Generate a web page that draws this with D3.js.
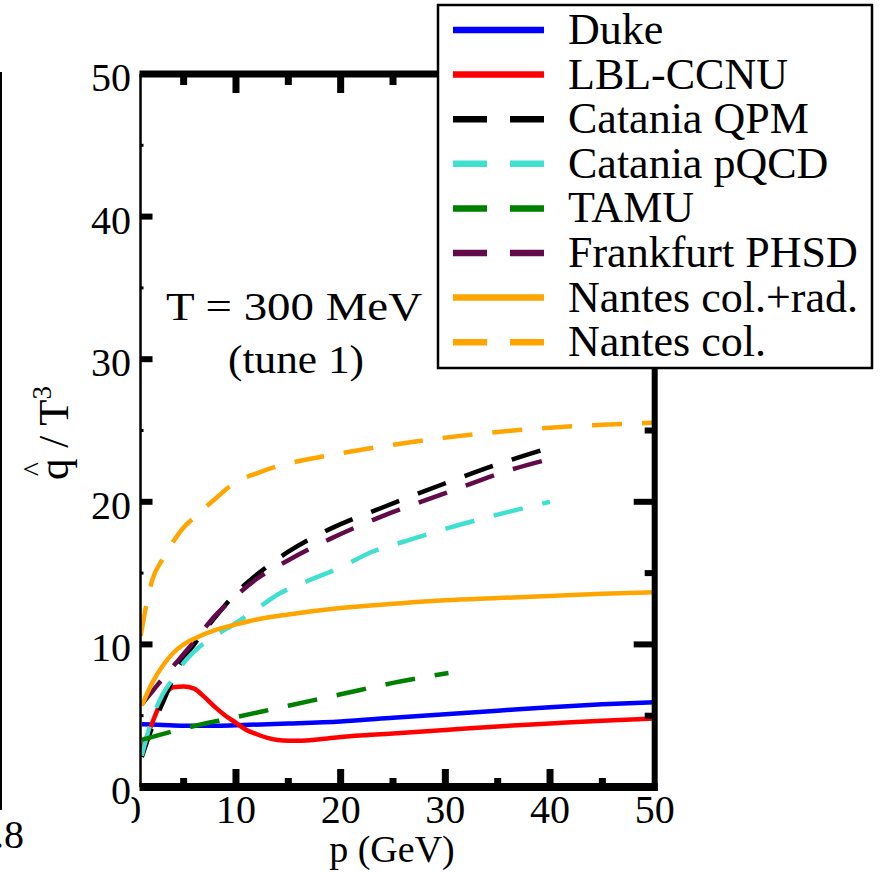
<!DOCTYPE html>
<html><head><meta charset="utf-8">
<script src="https://cdn.jsdelivr.net/npm/d3@7"></script>
<style>
body{margin:0;background:#fff}
svg{display:block}
text{font-family:"Liberation Serif","Times New Roman",serif;fill:#000}
</style>
</head><body>
<svg id="c" width="884" height="872"></svg>
<script>
// ---------- data ----------
const xTickValues = [0, 10, 20, 30, 40, 50];
const xMinorValues = [5, 15, 25, 35, 45];
const yTickValues = [0, 10, 20, 30, 40, 50];
const yMinorValues = [5, 15, 25, 35, 45];

const duke = [[1,4.4],[3,4.35],[5,4.3],[8,4.3],[10,4.33],[15,4.45],[20,4.6],[25,4.85],[30,5.1],[35,5.35],[40,5.6],[45,5.8],[50,5.95]];
const lblccnu = [[1,2.6],[2,4.5],[3,6.2],[4,7.0],[5,7.05],[6,6.9],[7,6.3],[8,5.6],[9,5.0],[10,4.5],[11,4.0],[12,3.7],[13,3.45],[14,3.3],[15,3.25],[16,3.25],[18,3.35],[20,3.5],[25,3.75],[30,4.0],[35,4.25],[40,4.45],[45,4.65],[50,4.8]];
const cataniaQPM = [[1,2.1],[2,4.2],[3,5.9],[4.5,8.4],[6,10.0],[8,11.9],[10,13.6],[12,14.9],[15,16.5],[19,18.1],[24,19.6],[30,21.3],[36.5,23.0],[40,23.8]];
const cataniaPQCD = [[1,2.2],[2,4.8],[3,6.5],[4,7.6],[5,8.7],[6,9.5],[8,10.6],[10,11.5],[12,12.5],[14,13.5],[17,14.5],[20,15.4],[23,16.5],[26,17.2],[30,18.1],[35,19.1],[40,20.0]];
const tamu = [[1,3.3],[5,4.1],[10,4.9],[15,5.7],[20,6.5],[25,7.3],[30.3,8.0]];
const frankfurtPHSD = [[1,5.8],[2,6.7],[3,7.6],[4.5,8.9],[6,10.2],[8,12.0],[10,13.4],[12,14.6],[15,15.9],[19,17.4],[24,19.0],[30,20.6],[36.5,22.3],[40,23.0]];
const nantesColRad = [[1,5.7],[2,7.3],[3,8.5],[4,9.4],[5,10.0],[6,10.4],[8,11.0],[10,11.4],[12,11.75],[15,12.1],[20,12.55],[25,12.85],[30,13.1],[35,13.25],[40,13.4],[45,13.55],[50,13.65]];
const nantesCol = [[0.9,10.6],[1.5,13.0],[2,14.5],[3,16.0],[4,17.2],[5,18.2],[6,18.9],[8,20.2],[10,21.4],[12,22.0],[14,22.5],[17,23.0],[20,23.4],[25,24.0],[30,24.5],[35,24.9],[40,25.2],[45,25.4],[50,25.55]];

const seriesNames  = ["Duke","LBL-CCNU","Catania QPM","Catania pQCD","TAMU","Frankfurt PHSD","Nantes col.+rad.","Nantes col."];
const seriesColors = ["#0000ff","#ff0000","#000000","#40e0d0","#008000","#620a4a","#ffa500","#ffa500"];
const seriesDashed = [false,false,true,true,true,true,false,true];
const seriesData   = [duke, lblccnu, cataniaQPM, cataniaPQCD, tamu, frankfurtPHSD, nantesColRad, nantesCol];

const xTitle = "p (GeV)";
const annotation1 = "T = 300 MeV";
const annotation2 = "(tune 1)";

// ---------- layout ----------
const svg = d3.select("#c");
const x = d3.scaleLinear().domain([0, 50]).range([131.3, 654.7]);
const y = d3.scaleLinear().domain([0, 50]).range([787, 74]);
const xLeft = 0.88; // visible start of frame
const L = x(xLeft), R = x(50), T = y(50), B = y(0);

const defs = svg.append("defs");
defs.append("clipPath").attr("id","plotclip")
  .append("rect").attr("x", L).attr("y", T).attr("width", R - L).attr("height", B - T);
defs.append("clipPath").attr("id","x0clip")
  .append("rect").attr("x", L - 9).attr("y", 792).attr("width", 60).attr("height", 60);

// remnants of the neighbouring panel
svg.append("line").attr("x1",1).attr("x2",1).attr("y1",72).attr("y2",810)
  .attr("stroke","#000").attr("stroke-width",2);
svg.append("text").attr("x",24).attr("y",848).attr("font-size",40).attr("text-anchor","end").text("0.8");

// data lines
const line = d3.line().x(d => x(d[0])).y(d => y(d[1])).curve(d3.curveMonotoneX);
const gLines = svg.append("g").attr("clip-path","url(#plotclip)");
seriesData.forEach((s, i) => {
  gLines.append("path").attr("d", line(s)).attr("fill","none")
    .attr("stroke", seriesColors[i]).attr("stroke-width", 4.5)
    .attr("stroke-dasharray", seriesDashed[i] ? "30,20" : null);
});

// frame
const frame = svg.append("g").attr("stroke","#000").attr("fill","none");
frame.append("line").attr("x1",L).attr("x2",L).attr("y1",T).attr("y2",B).attr("stroke-width",2.5);
frame.append("line").attr("x1",L-1).attr("x2",R+3).attr("y1",T).attr("y2",T).attr("stroke-width",7);
frame.append("line").attr("x1",L-1).attr("x2",R+3).attr("y1",B).attr("y2",B).attr("stroke-width",8);
frame.append("line").attr("x1",R).attr("x2",R).attr("y1",T-3).attr("y2",B+4).attr("stroke-width",6);

// ticks
const tk = svg.append("g").attr("stroke","#000").attr("stroke-width",7);
xTickValues.filter(v => v > xLeft && v < 50).forEach(v => {
  tk.append("line").attr("x1",x(v)).attr("x2",x(v)).attr("y1",B).attr("y2",B-18);
  tk.append("line").attr("x1",x(v)).attr("x2",x(v)).attr("y1",T).attr("y2",T+19);
});
xMinorValues.forEach(v => {
  tk.append("line").attr("x1",x(v)).attr("x2",x(v)).attr("y1",B).attr("y2",B-9);
  tk.append("line").attr("x1",x(v)).attr("x2",x(v)).attr("y1",T).attr("y2",T+11);
});
yTickValues.filter(v => v > 0 && v < 50).forEach(v => {
  tk.append("line").attr("x1",L).attr("x2",L+12).attr("y1",y(v)).attr("y2",y(v)).attr("stroke-width",6);
  tk.append("line").attr("x1",R).attr("x2",R-21).attr("y1",y(v)).attr("y2",y(v)).attr("stroke-width",6);
});
yMinorValues.forEach(v => {
  tk.append("line").attr("x1",L).attr("x2",L+3).attr("y1",y(v)).attr("y2",y(v)).attr("stroke-width",3);
  tk.append("line").attr("x1",R).attr("x2",R-10).attr("y1",y(v)).attr("y2",y(v)).attr("stroke-width",6);
});

// tick labels
const tl = svg.append("g").attr("font-size",40);
yTickValues.forEach(v => {
  tl.append("text").attr("x",131).attr("y",y(v)+17).attr("text-anchor","end").text(v);
});
xTickValues.forEach(v => {
  const t = tl.append("text").attr("x",x(v)).attr("y",823).attr("text-anchor","middle").text(v);
  if (v === 0) t.attr("clip-path","url(#x0clip)");
});

// axis titles
svg.append("text").attr("x",392).attr("y",862).attr("font-size",38).attr("text-anchor","middle").text(xTitle);
const yl = svg.append("g").attr("transform","translate(68,433) rotate(-90)");
const ylt = yl.append("text").attr("font-size",43);
ylt.append("tspan").text("q");
ylt.append("tspan").text(" / T");
ylt.append("tspan").attr("font-size",27).attr("dy",-17).text("3");
const yLen = ylt.node().getComputedTextLength();
ylt.attr("x",-yLen/2);
const qW = ylt.node().getSubStringLength(0,1);
yl.append("text").attr("font-size",30).attr("text-anchor","middle")
  .attr("x",-yLen/2 + qW/2).attr("y",-24).text("^");

// annotation
svg.append("text").attr("x",294).attr("y",320).attr("font-size",41).attr("text-anchor","middle")
  .attr("textLength",256).attr("lengthAdjust","spacingAndGlyphs").text(annotation1);
svg.append("text").attr("x",296).attr("y",373).attr("font-size",41).attr("text-anchor","middle")
  .attr("textLength",136).attr("lengthAdjust","spacingAndGlyphs").text(annotation2);

// legend
const lg = svg.append("g");
lg.append("rect").attr("x",438).attr("y",5).attr("width",434).attr("height",363)
  .attr("fill","#fff").attr("stroke","#000").attr("stroke-width",2.5);
seriesNames.forEach((n, i) => {
  const ly = 30 + i * 44.6;
  lg.append("line").attr("x1",453).attr("x2",544).attr("y1",ly).attr("y2",ly)
    .attr("stroke",seriesColors[i]).attr("stroke-width",6.5)
    .attr("stroke-dasharray", seriesDashed[i] ? "34,23" : null);
  lg.append("text").attr("x",568).attr("y",ly+14).attr("font-size",44).text(n);
});
</script>
</body></html>
